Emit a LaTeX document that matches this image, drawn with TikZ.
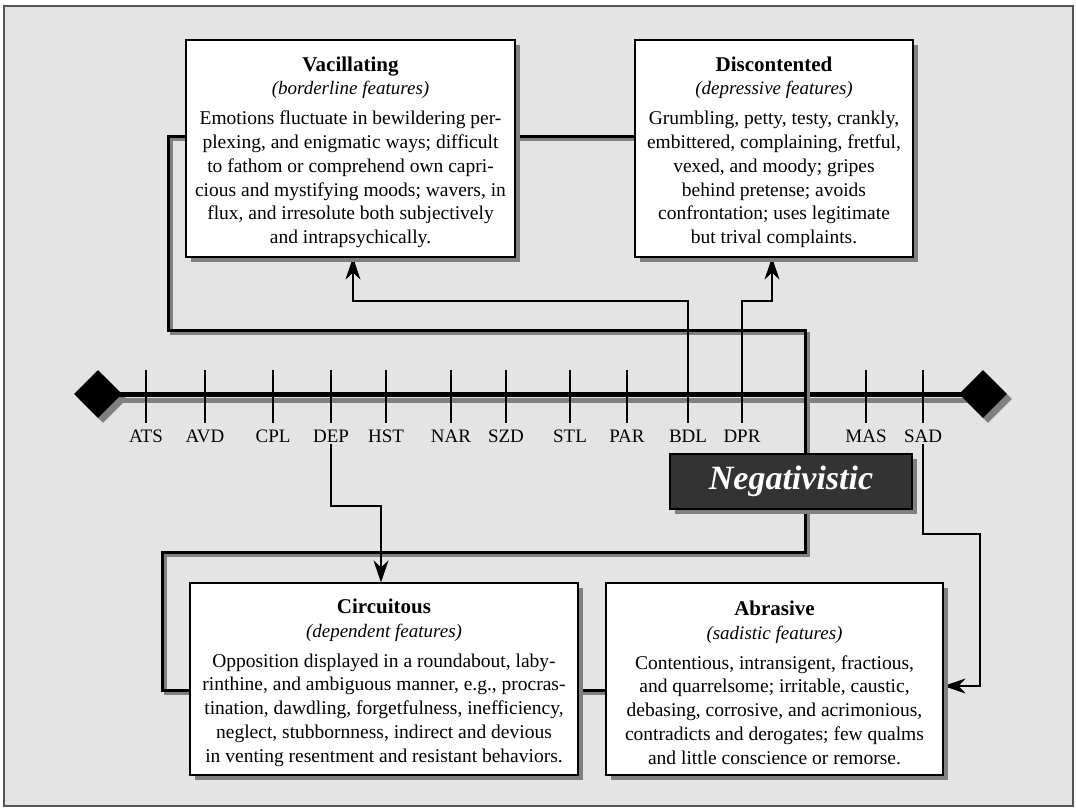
\documentclass[tikz,border=0pt]{standalone}
\usepackage{fontspec}
\setmainfont{Liberation Serif}
\usetikzlibrary{arrows.meta,shapes.geometric,shadows}
\definecolor{bgc}{HTML}{E4E4E4}
\definecolor{shg}{HTML}{808080}
\definecolor{negc}{HTML}{333333}
\definecolor{frm}{HTML}{555555}
\newcommand\ttl[1]{{\fontsize{21}{24}\selectfont\bfseries\rule{0pt}{22pt}#1}}
\newcommand\subt[1]{{\fontsize{19}{24}\selectfont\itshape #1}}
\pgfdeclarelayer{back}
\pgfdeclarelayer{mid}
\pgfsetlayers{back,mid,main}
\begin{document}
\begin{tikzpicture}[x=1pt,y=-1pt,
  shadowed/.style={drop shadow={shadow xshift=5pt,shadow yshift=-5pt,fill=shg,opacity=1}},
  card/.style={draw=black,line width=1.2pt,fill=white,align=center,inner sep=0pt,
    font=\fontsize{19.5}{23.8}\selectfont,shadowed},
  negbox/.style={draw=black,line width=1.2pt,fill=negc,text=white,inner sep=0pt,
    font=\fontsize{34}{40}\selectfont\bfseries\itshape,shadowed},
  endmark/.style={diamond,fill=black,inner sep=0pt,minimum width=48pt,minimum height=48pt,shadowed},
  lab/.style={font=\fontsize{19}{22}\selectfont,inner sep=2pt,outer sep=0pt,anchor=base},
  tickline/.style={line width=1.1pt,black},
  heavy/.style={line width=3pt,line join=miter},
  heavyshd/.style={heavy,draw=shg,transform canvas={xshift=3pt,yshift=-3pt}},
  heavyblk/.style={heavy,draw=black},
  link/.style={line width=1.1pt,black,-{Stealth[length=22pt,width=15pt,inset=7pt]}},
]
\useasboundingbox (0,0) rectangle (1076,808);
\begin{pgfonlayer}{back}
  \draw[frm,line width=1.2pt,fill=bgc] (4,6) rectangle (1073,806);
\end{pgfonlayer}

% boxes
\node[card,minimum width=329pt,minimum height=217pt] (vac) at (350.5,148.5) {%
  \ttl{Vacillating}\\ \subt{(borderline features)}\\[6pt]
  Emotions fluctuate in bewildering per-\\
  plexing, and enigmatic ways; difficult\\
  to fathom or comprehend own capri-\\
  cious and mystifying moods; wavers, in\\
  flux, and irresolute both subjectively\\
  and intrapsychically.};
\node[card,minimum width=278pt,minimum height=217pt] (disc) at (774,148.5) {%
  \ttl{Discontented}\\ \subt{(depressive features)}\\[6pt]
  Grumbling, petty, testy, crankly,\\
  embittered, complaining, fretful,\\
  vexed, and moody; gripes\\
  behind pretense; avoids\\
  confrontation; uses legitimate\\
  but trival complaints.};
\node[card,minimum width=388pt,minimum height=192pt] (circ) at (384,679) {%
  \ttl{Circuitous}\\ \subt{(dependent features)}\\[6pt]
  Opposition displayed in a roundabout, laby-\\
  rinthine, and ambiguous manner, e.g., procras-\\
  tination, dawdling, forgetfulness, inefficiency,\\
  neglect, stubbornness, indirect and devious\\
  in venting resentment and resistant behaviors.};
\node[card,minimum width=337pt,minimum height=192pt] (abr) at (774.5,679) {%
  \ttl{Abrasive}\\ \subt{(sadistic features)}\\[6pt]
  Contentious, intransigent, fractious,\\
  and quarrelsome; irritable, caustic,\\
  debasing, corrosive, and acrimonious,\\
  contradicts and derogates; few qualms\\
  and little conscience or remorse.};
\node[negbox,minimum width=242pt,minimum height=55pt] (neg) at (791,481.5) {Negativistic};

\begin{pgfonlayer}{mid}
  % axis
  \coordinate (dlc) at (98,394);
  \coordinate (drc) at (983,394);
  \draw[line width=5pt,shg,transform canvas={xshift=4pt,yshift=-6pt}] (dlc) -- (drc);
  \node[endmark] (dl) at (dlc) {};
  \node[endmark] (dr) at (drc) {};
  \draw[line width=5pt,black] (dl.center) -- (dr.center);
  % ticks and labels
  \foreach \x/\n in {146/ATS,205/AVD,273/CPL,331/DEP,386/HST,451/NAR,506/SZD,570/STL,627/PAR,688/BDL,742/DPR,866/MAS,923/SAD}{
    \coordinate (k\n) at (\x,370);
    \draw[tickline] (k\n) -- (\x,423);
    \node[lab] (l\n) at (\x,442) {\n};
  }
  % heavy connectors
  \coordinate (cA) at (168,330);
  \coordinate (cB) at (162,552);
  \foreach \s in {heavyshd,heavyblk}{
    \draw[\s] ([yshift=12pt]vac.west) -| (cA) -| ([xshift=14pt]neg.north);
    \draw[\s] ([xshift=14pt]neg.south) |- (cB) |- ([yshift=-11pt]circ.west);
    \draw[\s] ([yshift=12pt]vac.east) -- ([yshift=12pt]disc.west);
    \draw[\s] ([yshift=-11pt]circ.east) -- ([yshift=-11pt]abr.west);
  }
  % thin connectors
  \coordinate (cC) at (688,301);
  \coordinate (cD) at (742,301);
  \coordinate (cE) at (331,506);
  \coordinate (cF) at (980,534);
  \draw[link] (kBDL) -- (cC) -| ([xshift=2.5pt]vac.south);
  \draw[link] (kDPR) -- (cD) -| ([xshift=-2pt]disc.south);
  \draw[link] (lDEP.south) -- (cE) -| ([xshift=-3pt]circ.north);
  \draw[link] (lSAD.south) |- (cF) |- ([yshift=-7pt]abr.east);
\end{pgfonlayer}
\end{tikzpicture}
\end{document}
